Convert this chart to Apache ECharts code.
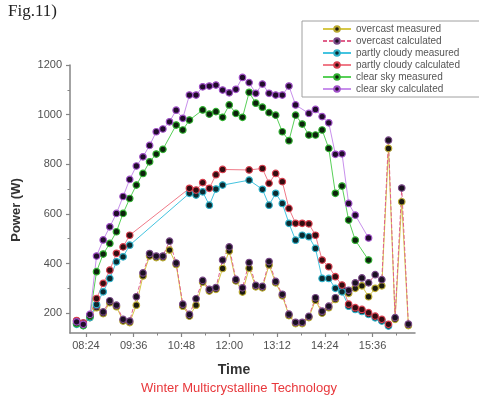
<!DOCTYPE html>
<html>
<head>
<meta charset="utf-8">
<script src="https://cdn.jsdelivr.net/npm/echarts@6/dist/echarts.min.js"></script>
<style>
  html, body { margin: 0; padding: 0; background: #fff; }
  #chart { width: 479px; height: 396px; }
</style>
</head>
<body>
<div id="chart"></div>
<script>
// Logging times in minutes after midnight (08:10 ... 16:30, every 10 min)
const times = [490, 500, 510, 520, 530, 540, 550, 560, 570, 580,
               590, 600, 610, 620, 630, 640, 650, 660, 670, 680,
               690, 700, 710, 720, 730, 740, 750, 760, 770, 780,
               790, 800, 810, 820, 830, 840, 850, 860, 870, 880,
               890, 900, 910, 920, 930, 940, 950, 960, 970, 980, 990];

// Power (W)
const overcastMeasured = [160, 155, 182, 222, 198, 242, 226, 168, 162, 232,
                          350, 430, 424, 424, 454, 396, 228, 188, 232, 325,
                          289, 296, 380, 450, 330, 285, 381, 306, 302, 394,
                          322, 270, 190, 158, 158, 182, 252, 200, 222, 255,
                          290, 280, 300, 310, 266, 300, 310, 864, 175, 649, 150];
const overcastCalculated = [168, 160, 190, 230, 205, 250, 232, 175, 168, 266,
                            362, 440, 430, 430, 490, 402, 236, 195, 258, 332,
                            296, 303, 414, 467, 336, 302, 404, 312, 308, 408,
                            328, 276, 196, 163, 163, 187, 262, 208, 228, 262,
                            300, 292, 322, 342, 322, 355, 335, 897, 182, 704, 156];
const partlyMeasured = [155, 150, 182, 235, 286, 340, 407, 427, 474,
                        null, null, null, null, null, null, null, null,
                        683, 676, 689, 635, 700, 716,
                        null, null, null, 736, null,
                        699, 635, 683, 642, 562, 494, 514, 508, 461, 340,
                        340, 300, 286, 228, 215, 207, 195, 181, 168, 148,
                        null, null, null];
const partlyCalculated = [170, 160, 192, 259, 320, 373, 441, 467, 514,
                         null, null, null, null, null, null, null, null,
                         703, 696, 726, 703, 758, 779,
                         null, null, null, 777, null,
                         783, 723, 763, 730, 622, 562, 562, 560, 514, 414,
                         387, 347, 313, 236, 222, 215, 202, 188, 175, 155,
                         null, null, null];
const clearMeasured = [158, 150, 188, 367, 438, 481, 528, 602, 662, 716,
                       763, 810, 841, 860, null, 958, 938, 978, null, 1019,
                       1002, 1012, 989, 1039, 1005, 989, 1090, 1046, 1030, 1008,
                       998, 931, 895, 998, 962, 918, 918, 938, 864, 683,
                       712, 575, 494, null, 414, null, null, null, null, null, null];
const clearCalculated = [165, 155, 195, 430, 495, 548, 602, 670, 739, 793,
                         830, 876, 931, 942, 971, 1018, 985, 1079, 1079, 1112,
                         1115, 1119, 1099, 1088, 1102, 1150, 1129, 1086, 1123, 1086,
                         1079, 1079, 1115, 1039, null, 1005, 1021, 992, 967, 840,
                         842, 642, 595, null, 503, null, null, null, null, null, null];

// Axis ticks
const xMajorTicks = [504, 576, 648, 720, 792, 864, 936];
const xMinorTicks = [540, 612, 684, 756, 828, 900, 972];
const yMajorTicks = [200, 400, 600, 800, 1000, 1200];
const yMinorTicks = [300, 500, 700, 900, 1100];

const seriesDefs = [
  { name: 'overcast measured',        values: overcastMeasured,   line: '#d6c848', fill: '#1c1a10', edge: '#b8a830', dash: 'solid' },
  { name: 'overcast calculated',      values: overcastCalculated, line: '#e0608a', fill: '#1a1020', edge: '#7a4a88', dash: [4, 2] },
  { name: 'partly cloudy measured',   values: partlyMeasured,     line: '#44c4e0', fill: '#0c2a30', edge: '#2fb0c8', dash: 'solid' },
  { name: 'partly cloudy calculated', values: partlyCalculated,   line: '#f07a88', fill: '#330c10', edge: '#d84050', dash: 'solid' },
  { name: 'clear sky measured',       values: clearMeasured,      line: '#58d058', fill: '#0c220c', edge: '#30b030', dash: 'solid' },
  { name: 'clear sky calculated',     values: clearCalculated,    line: '#c890ec', fill: '#200c2a', edge: '#a050c8', dash: 'solid' }
];

function hhmm(m) {
  const h = Math.floor(m / 60), mm = Math.round(m % 60);
  return String(h).padStart(2, '0') + ':' + String(mm).padStart(2, '0');
}

const axisGray = '#858585';
const labelGray = '#505050';

const chart = echarts.init(document.getElementById('chart'));
chart.setOption({
  animation: false,
  backgroundColor: '#fff',
  grid: { left: 70, right: 64, top: 65, bottom: 63 },
  xAxis: [
    {
      type: 'value', min: 480, max: 1000,
      axisLine: { lineStyle: { color: axisGray, width: 1.5 } },
      axisTick: { customValues: xMajorTicks, length: 4, lineStyle: { color: axisGray, width: 1.2 } },
      axisLabel: { customValues: xMajorTicks, formatter: hhmm, fontSize: 11, color: labelGray, margin: 7,
                   fontFamily: 'Liberation Sans' },
      splitLine: { show: false }
    },
    {
      type: 'value', min: 480, max: 1000, position: 'bottom',
      axisLine: { show: false },
      axisTick: { customValues: xMinorTicks, length: 2.5, lineStyle: { color: axisGray } },
      axisLabel: { show: false },
      splitLine: { show: false }
    }
  ],
  yAxis: [
    {
      type: 'value', min: 120, max: 1200,
      axisLine: { show: true, lineStyle: { color: axisGray, width: 1.5 } },
      axisTick: { show: true, customValues: yMajorTicks, length: 4, lineStyle: { color: axisGray, width: 1.2 } },
      axisLabel: { customValues: yMajorTicks, formatter: v => String(v), fontSize: 11, color: labelGray, margin: 8,
                   fontFamily: 'Liberation Sans' },
      splitLine: { show: false }
    },
    {
      type: 'value', min: 120, max: 1200, position: 'left',
      axisLine: { show: false },
      axisTick: { show: true, customValues: yMinorTicks, length: 2.5, lineStyle: { color: axisGray } },
      axisLabel: { show: false },
      splitLine: { show: false }
    }
  ],
  legend: {
    orient: 'vertical',
    left: 302, top: 21,
    itemWidth: 28, itemHeight: 7, itemGap: 2,
    padding: [3, 30, 3, 20],
    borderColor: '#a0a0a0', borderWidth: 1,
    textStyle: { fontSize: 10, color: '#555', fontFamily: 'Liberation Sans' },
    data: seriesDefs.map(d => d.name)
  },
  graphic: [
    { type: 'text', left: 8, top: 3,
      style: { text: 'Fig.11)', font: '17px "Liberation Serif"', fill: '#222' } },
    { type: 'text', x: 16, y: 210, rotation: Math.PI / 2,
      style: { text: 'Power (W)', font: 'bold 13px "Liberation Sans"', fill: '#333',
               align: 'center', verticalAlign: 'middle' } },
    { type: 'text', x: 234, y: 370,
      style: { text: 'Time', font: 'bold 14px "Liberation Sans"', fill: '#333',
               align: 'center', verticalAlign: 'middle' } },
    { type: 'text', x: 239, y: 388,
      style: { text: 'Winter Multicrystalline Technology', font: '13px "Liberation Sans"', fill: '#e8383c',
               align: 'center', verticalAlign: 'middle' } }
  ],
  series: seriesDefs.map(d => ({
    name: d.name,
    type: 'line',
    xAxisIndex: 0, yAxisIndex: 0,
    data: times.map((t, i) => [t, d.values[i]]),
    connectNulls: true,
    symbol: 'circle',
    symbolSize: 6.5,
    showAllSymbol: true,
    lineStyle: { color: d.line, width: 1, type: d.dash },
    itemStyle: { color: d.fill, borderColor: d.edge, borderWidth: 1.2 },
    emphasis: { disabled: true }
  }))
});
</script>
</body>
</html>
